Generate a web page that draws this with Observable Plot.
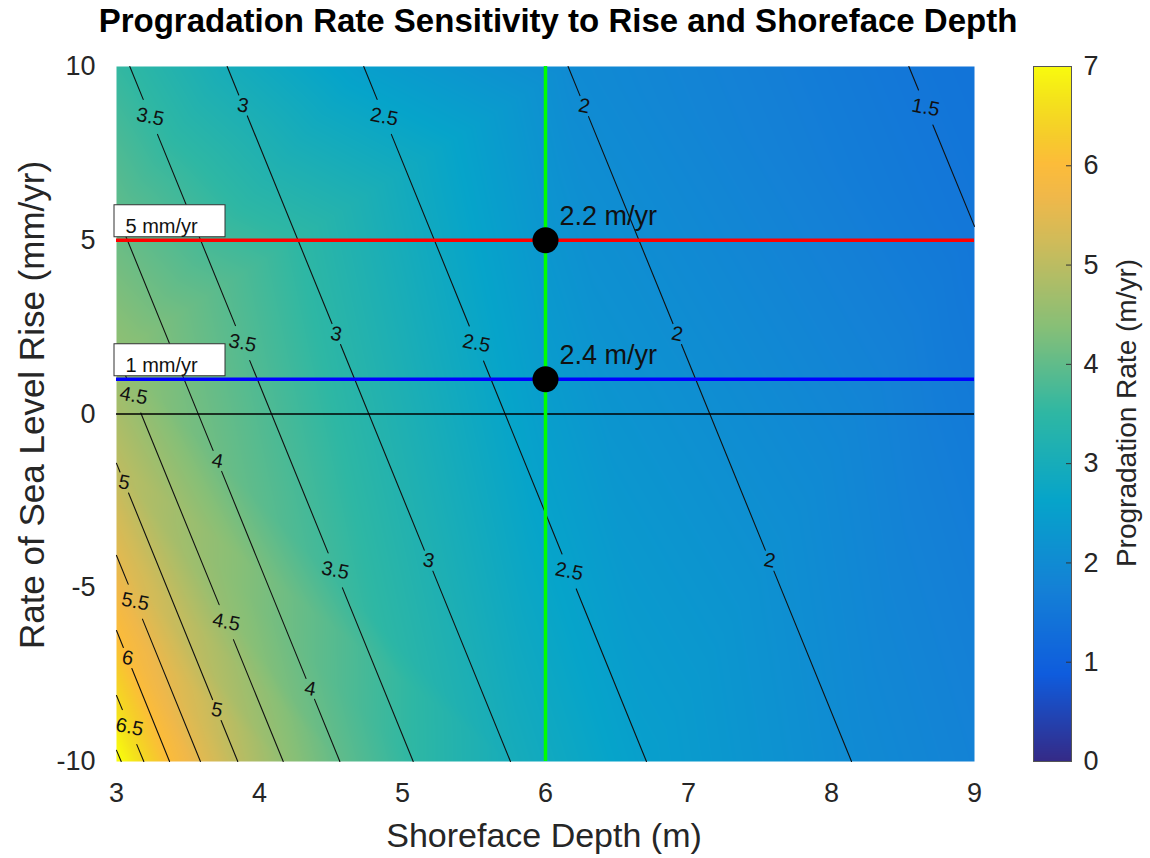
<!DOCTYPE html>
<html>
<head>
<meta charset="utf-8">
<script src="https://cdn.jsdelivr.net/npm/d3@7"></script>
<script src="https://cdn.jsdelivr.net/npm/@observablehq/plot@0.6"></script>
<style>
  body { margin: 0; background: #fff; }
  #wrap { position: relative; width: 1150px; height: 858px; font-family: "Liberation Sans", Arial, Helvetica, sans-serif; color: #262626; }
  .abs { position: absolute; white-space: nowrap; line-height: 1; transform-origin: center center; }
</style>
</head>
<body>
<div id="wrap"></div>
<script>
// ---------------- data ----------------
const depthDomain = [3, 9];          // Shoreface depth (m)
const riseDomain = [-10, 10];        // Rate of sea level rise (mm/yr)
const rateDomain = [0, 7];           // Progradation rate (m/yr)
const depthTicks = [3, 4, 5, 6, 7, 8, 9];
const riseTicks = [-10, -5, 0, 5, 10];
const rateTicks = [0, 1, 2, 3, 4, 5, 6, 7];

// contour lines: where each level enters and leaves the frame
const contourLevels = [1.5, 2, 2.5, 3, 3.5, 4, 4.5, 5, 5.5, 6, 6.5, 7];
const contourStartD = [8.541, 6.158, 4.729, 3.774, 3.093, 3, 3, 3, 3, 3, 3, 3];
const contourStartR = [10, 10, 10, 10, 10, 5.77, 1.74, -1.42, -4.07, -6.23, -8.10, -9.68];
const contourEndD   = [9, 8.140, 6.706, 5.755, 5.075, 4.562, 4.166, 3.848, 3.587, 3.371, 3.191, 3.033];
const contourEndR   = [5.4, -10, -10, -10, -10, -10, -10, -10, -10, -10, -10, -10];

// field values at the frame corners
const cornerD = [3, 9, 9, 3];
const cornerR = [10, 10, -10, -10];
const cornerRate = [3.56, 1.43, 1.78, 7.1];

// contour labels: level and the rise value where the label sits
const labelLevels = [3.5, 3, 2.5, 2, 1.5, 3.5, 3, 2.5, 2, 4.5, 4, 5, 5.5, 6, 6.5, 3.5, 3, 2.5, 2, 4, 4.5, 5];
const labelRise   = [8.55, 8.88, 8.55, 8.86, 8.82, 2.04, 2.30, 2.03, 2.30, 0.53, -1.35, -1.97, -5.40, -7.02, -9.01, -4.50, -4.22, -4.53, -4.22, -7.91, -5.99, -8.52];

// scenarios
const selectedDepth = 6;
const scenarioRise = [5, 1];
const scenarioLabels = ["5 mm/yr", "1 mm/yr"];
const scenarioColors = ["#ff0000", "#0000ff"];
const scenarioRates = [2.2, 2.4];

// parula colormap stops (position in [0,1], colour)
const parulaPos = [0, 0.125, 0.25, 0.375, 0.5, 0.625, 0.75, 0.8125, 0.86, 0.9, 0.95, 1];
const parulaHex = ["#352a87", "#0f5cdd", "#1481d6", "#06a4ca", "#2eb7a4", "#87bf77", "#d1bb59", "#f0b84a", "#fcbc3a", "#f6cc2b", "#f4e21c", "#f9fb0e"];

// ---------------- layout ----------------
const W = 1000, H = 858, mL = 116, mR = 26, mT = 66, mB = 97;
const pxPerRise = (H - mT - mB) / (riseDomain[1] - riseDomain[0]);
const font = '"Liberation Sans", Arial, Helvetica, sans-serif';

// ---------------- derived tables ----------------
const fieldSamples = [];
contourLevels.forEach((lev, i) => {
  fieldSamples.push({D: contourStartD[i], R: contourStartR[i], P: lev});
  fieldSamples.push({D: contourEndD[i], R: contourEndR[i], P: lev});
});
cornerD.forEach((d, i) => fieldSamples.push({D: d, R: cornerR[i], P: cornerRate[i]}));

function depthOnLine(i, r) {
  const t = (r - contourStartR[i]) / (contourEndR[i] - contourStartR[i]);
  return contourStartD[i] + t * (contourEndD[i] - contourStartD[i]);
}

const contourLabels = labelLevels.map((lev, j) => {
  const i = contourLevels.indexOf(lev);
  return {level: lev, R: labelRise[j], D: depthOnLine(i, labelRise[j]), text: String(lev)};
});

const contourSegments = [];
let segId = 0;
contourLevels.forEach((lev, i) => {
  const labs = contourLabels.filter(l => l.level === lev).sort((a, b) => b.R - a.R);
  let from = contourStartR[i];
  const end = contourEndR[i];
  const pushSeg = (a, b) => {
    if (a - b <= 0.01) return;
    contourSegments.push({seg: segId, D: depthOnLine(i, a), R: a});
    contourSegments.push({seg: segId, D: depthOnLine(i, b), R: b});
    segId++;
  };
  labs.forEach(l => {
    const half = (l.text.length === 1 ? 10.5 : 17.5) / pxPerRise;
    pushSeg(from, Math.max(end, l.R + half));
    from = Math.min(from, l.R - half);
  });
  pushSeg(from, end);
});

const scenarios = scenarioRise.map((r, i) => ({R: r, D: selectedDepth, label: scenarioLabels[i], rate: scenarioRates[i]}));

const parulaScale = d3.scaleLinear().domain(parulaPos).range(parulaHex).interpolate(d3.interpolateRgb).clamp(true);
const colorScale = {type: "linear", domain: rateDomain, interpolate: t => parulaScale(t)};

// ---------------- main chart ----------------
const main = Plot.plot({
  width: W, height: H, marginLeft: mL, marginRight: mR, marginTop: mT, marginBottom: mB,
  style: {fontFamily: font, color: "#262626", background: "transparent", overflow: "visible"},
  x: {domain: depthDomain},
  y: {domain: riseDomain},
  color: colorScale,
  marks: [
    Plot.raster(fieldSamples, {x: "D", y: "R", fill: "P", interpolate: "barycentric"}),
    Plot.line(contourSegments, {x: "D", y: "R", z: "seg", stroke: "#111", strokeWidth: 1.1}),
    Plot.text(contourLabels, {x: "D", y: "R", text: "text", rotate: 11, fontSize: 20, fill: "#111"}),
    Plot.ruleY([0], {stroke: "#000", strokeWidth: 1.5}),
    Plot.ruleY([scenarioRise[0]], {stroke: scenarioColors[0], strokeWidth: 3.5}),
    Plot.ruleY([scenarioRise[1]], {stroke: scenarioColors[1], strokeWidth: 3.5}),
    Plot.ruleX([selectedDepth], {stroke: "#00ff00", strokeWidth: 3.5}),
    Plot.rect(scenarios, {x1: () => depthDomain[0], x2: () => depthDomain[0], y1: "R", y2: "R",
      insetLeft: -2, insetRight: -109, insetTop: -35, insetBottom: 3, fill: "white", stroke: "#333", strokeWidth: 1}),
    Plot.text(scenarios, {x: () => depthDomain[0], y: "R", text: "label", textAnchor: "start", lineAnchor: "bottom",
      dx: 9, dy: -7.5, fontSize: 20, fill: "#111"}),
    Plot.dot(scenarios, {x: "D", y: "R", r: 13, fill: "#000"}),
    Plot.text(scenarios, {x: "D", y: "R", text: d => `${d.rate} m/yr`, textAnchor: "start", lineAnchor: "bottom",
      dx: 14, dy: -15, fontSize: 27, fill: "#111"}),
    Plot.axisX({ticks: depthTicks, tickSize: 0, tickPadding: 21, fontSize: 27, tickFormat: d => String(d), label: null}),
    Plot.axisY({ticks: riseTicks, tickSize: 0, tickPadding: 21, fontSize: 27, tickFormat: d => String(d), label: null})
  ]
});

// ---------------- colorbar ----------------
const bar = Plot.plot({
  width: 150, height: H, marginLeft: 33, marginRight: 79, marginTop: mT, marginBottom: mB,
  style: {fontFamily: font, color: "#262626", background: "transparent", overflow: "visible"},
  x: {domain: [0, 1], axis: null},
  y: {domain: rateDomain},
  color: colorScale,
  marks: [
    Plot.raster({fill: (x, y) => y, x1: 0, x2: 1, y1: rateDomain[0], y2: rateDomain[1]}),
    Plot.ruleY(rateTicks.slice(1, -1), {insetLeft: 33, stroke: "#333", strokeWidth: 1}),
    Plot.frame({stroke: "#555", strokeWidth: 1}),
    Plot.axisY({anchor: "right", ticks: rateTicks, tickSize: 0, tickPadding: 12, fontSize: 27, tickFormat: d => String(d), label: null})
  ]
});

const wrap = document.getElementById("wrap");
main.style.position = "absolute"; main.style.left = "0px"; main.style.top = "0px";
bar.style.position = "absolute"; bar.style.left = "1000px"; bar.style.top = "0px";
wrap.appendChild(main);
wrap.appendChild(bar);

function addText(txt, x, y, size, weight, rot, color) {
  const el = document.createElement("div");
  el.className = "abs";
  el.textContent = txt;
  el.style.left = x + "px";
  el.style.top = y + "px";
  el.style.fontSize = size + "px";
  el.style.fontWeight = weight;
  el.style.color = color;
  el.style.transform = `translate(-50%, -50%) rotate(${rot}deg)`;
  wrap.appendChild(el);
}
addText("Progradation Rate Sensitivity to Rise and Shoreface Depth", 558, 20, 33, "bold", 0, "#000");
addText("Shoreface Depth (m)", 544, 835, 34, "normal", 0, "#262626");
addText("Rate of Sea Level Rise (mm/yr)", 31, 405, 35, "normal", -90, "#262626");
addText("Progradation Rate (m/yr)", 1127, 413, 28, "normal", -90, "#262626");
</script>
</body>
</html>
